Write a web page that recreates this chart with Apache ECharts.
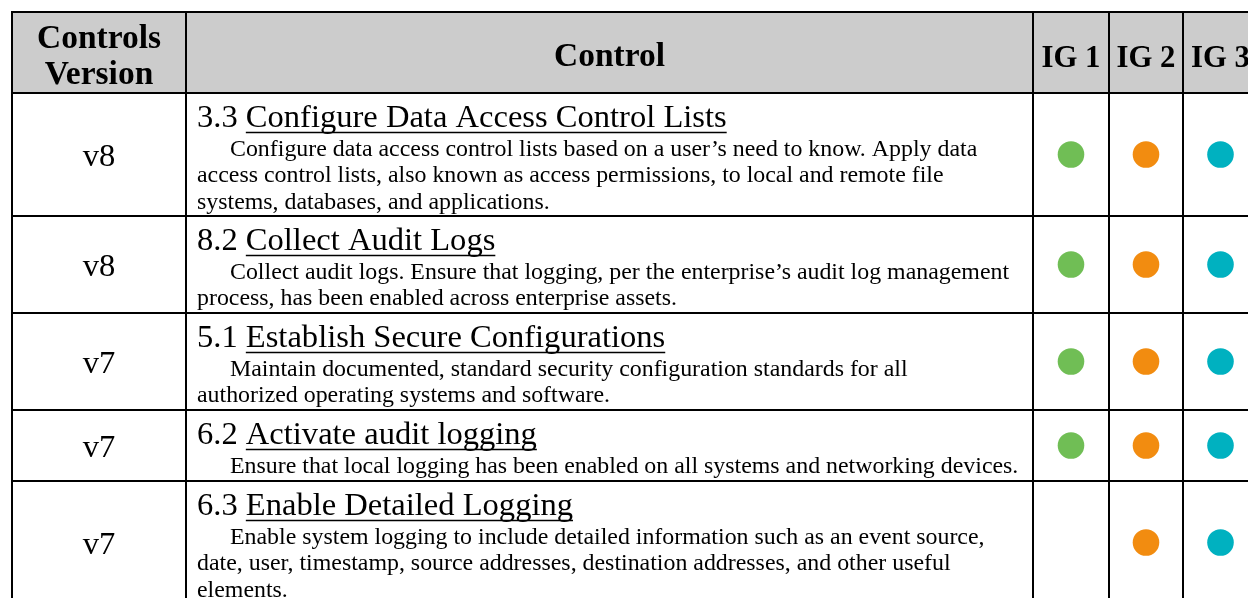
<!DOCTYPE html>
<html><head><meta charset="utf-8">
<script src="https://cdn.jsdelivr.net/npm/echarts@6/dist/echarts.min.js"></script>
<style>html,body{margin:0;padding:0;background:#fff}#chart{width:1248px;height:598px}</style>
</head><body><div id="chart"></div>
<script>
// ---- data ----
const headerLabels = ['Controls\nVersion', 'Control', 'IG 1', 'IG 2', 'IG 3'];
const versions = ['v8', 'v8', 'v7', 'v7', 'v7'];
const controlIds = ['3.3', '8.2', '5.1', '6.2', '6.3'];
const controlTitles = ['Configure Data Access Control Lists', 'Collect Audit Logs', 'Establish Secure Configurations', 'Activate audit logging', 'Enable Detailed Logging'];
const descriptions = [
  ['Configure data access control lists based on a user\u2019s need to know. Apply data', 'access control lists, also known as access permissions, to local and remote file', 'systems, databases, and applications.'],
  ['Collect audit logs. Ensure that logging, per the enterprise\u2019s audit log management', 'process, has been enabled across enterprise assets.'],
  ['Maintain documented, standard security configuration standards for all', 'authorized operating systems and software.'],
  ['Ensure that local logging has been enabled on all systems and networking devices.'],
  ['Enable system logging to include detailed information such as an event source,', 'date, user, timestamp, source addresses, destination addresses, and other useful', 'elements.']
];
const ig1 = [true, true, true, true, false];
const ig2 = [true, true, true, true, true];
const ig3 = [true, true, true, true, true];
const igColors = ['#70BE55', '#F28C10', '#00B1C0'];

// ---- layout ----
const W = 1248, H = 598;
const colEdges = [12, 186, 1033, 1109, 1183, 1258];
const tableTop = 12, headerH = 81, rowBase = 45, lineStep = 26, textStep = 26.7;
const FAMILY = '"Liberation Serif", "DejaVu Serif", serif';

const rowTops = [tableTop + headerH];
descriptions.forEach((d, i) => rowTops.push(rowTops[i] + rowBase + lineStep * d.length));

const mctx = document.createElement('canvas').getContext('2d');
function measure(text, size, weight) {
  mctx.font = `${weight} ${size}px ${FAMILY}`;
  mctx.textBaseline = 'alphabetic';
  return mctx.measureText(text);
}
function fit(text, target, weight) {
  return 100 * target / measure(text, 100, weight).width;
}
function midOff(size, weight) {
  const m = measure('Hg', size, weight);
  if (m.fontBoundingBoxAscent !== undefined) return (m.fontBoundingBoxAscent - m.fontBoundingBoxDescent) / 2;
  return 0.3375 * size;
}
const bodySize = fit('Ensure that local logging has been enabled on all systems and networking devices.', 789, 'normal');
const titleSize = fit('3.3 Configure Data Access Control Lists', 530, 'normal');
const headSize = fit('Controls', 124, 'bold');
const igSize = Math.min(headSize, fit('IG 1', 59, 'bold'));

function txt(api, text, x, baseline, size, weight, align) {
  const p = api.coord([x, baseline]);
  return {
    type: 'text',
    style: {
      text: text, x: p[0], y: p[1] - midOff(size, weight),
      fill: '#000', fontSize: size, fontWeight: weight, fontFamily: FAMILY,
      align: align, verticalAlign: 'middle'
    }
  };
}
function cell(api, c, top, bot, fill) {
  const a = api.coord([colEdges[c], top]), b = api.coord([colEdges[c + 1], bot]);
  return {
    type: 'rect',
    shape: { x: a[0], y: a[1], width: b[0] - a[0], height: b[1] - a[1] },
    style: { fill: fill, stroke: '#000', lineWidth: 2 }
  };
}

function renderHeader(params, api) {
  const top = tableTop, bot = tableTop + headerH;
  const ch = [];
  for (let c = 0; c < 5; c++) ch.push(cell(api, c, top, bot, '#CCCCCC'));
  const lines0 = headerLabels[0].split('\n');
  const cx0 = (colEdges[0] + colEdges[1]) / 2;
  ch.push(txt(api, lines0[0], cx0, top + 39, headSize, 'bold', 'center'));
  ch.push(txt(api, lines0[1], cx0, top + 75, headSize, 'bold', 'center'));
  for (let c = 1; c < 5; c++) {
    ch.push(txt(api, headerLabels[c], (colEdges[c] + colEdges[c + 1]) / 2, top + 57, c === 1 ? headSize : igSize, 'bold', 'center'));
  }
  return { type: 'group', children: ch };
}

function renderRow(params, api) {
  const i = api.value(0);
  const top = rowTops[i], bot = rowTops[i + 1];
  const mid = (top + bot) / 2;
  const ch = [];
  for (let c = 0; c < 5; c++) ch.push(cell(api, c, top, bot, null));
  ch.push(txt(api, versions[i], (colEdges[0] + colEdges[1]) / 2, mid + 14, titleSize, 'normal', 'center'));
  const tx = colEdges[1] + 11;
  const prefix = controlIds[i] + ' ';
  const tb = top + 36;
  ch.push(txt(api, prefix + controlTitles[i], tx, tb, titleSize, 'normal', 'left'));
  const ux0 = tx + measure(prefix, titleSize, 'normal').width;
  const ux1 = ux0 + measure(controlTitles[i], titleSize, 'normal').width;
  const u0 = api.coord([ux0, tb + 3.5]), u1 = api.coord([ux1, tb + 3.5]);
  ch.push({ type: 'line', shape: { x1: u0[0], y1: u0[1], x2: u1[0], y2: u1[1] }, style: { stroke: '#000', lineWidth: 1.4 } });
  descriptions[i].forEach((line, k) => {
    ch.push(txt(api, line, tx + (k === 0 ? 33 : 0), top + 64.5 + textStep * k, bodySize, 'normal', 'left'));
  });
  [ig1, ig2, ig3].forEach((flags, g) => {
    if (!flags[i]) return;
    const cpos = api.coord([(colEdges[g + 2] + colEdges[g + 3]) / 2, mid]);
    ch.push({ type: 'circle', shape: { cx: cpos[0], cy: cpos[1], r: 13.3 }, style: { fill: igColors[g] } });
  });
  return { type: 'group', children: ch };
}

const chart = echarts.init(document.getElementById('chart'), null, { renderer: 'canvas' });
chart.setOption({
  animation: false,
  backgroundColor: '#fff',
  grid: { left: 0, right: 0, top: 0, bottom: 0 },
  xAxis: { type: 'value', min: 0, max: W, show: false },
  yAxis: { type: 'value', min: 0, max: H, inverse: true, show: false },
  series: [
    { type: 'custom', renderItem: renderHeader, data: [[0]], silent: true, clip: false },
    { type: 'custom', renderItem: renderRow, data: versions.map((v, i) => [i]), silent: true, clip: false }
  ]
});
</script>
</body></html>
